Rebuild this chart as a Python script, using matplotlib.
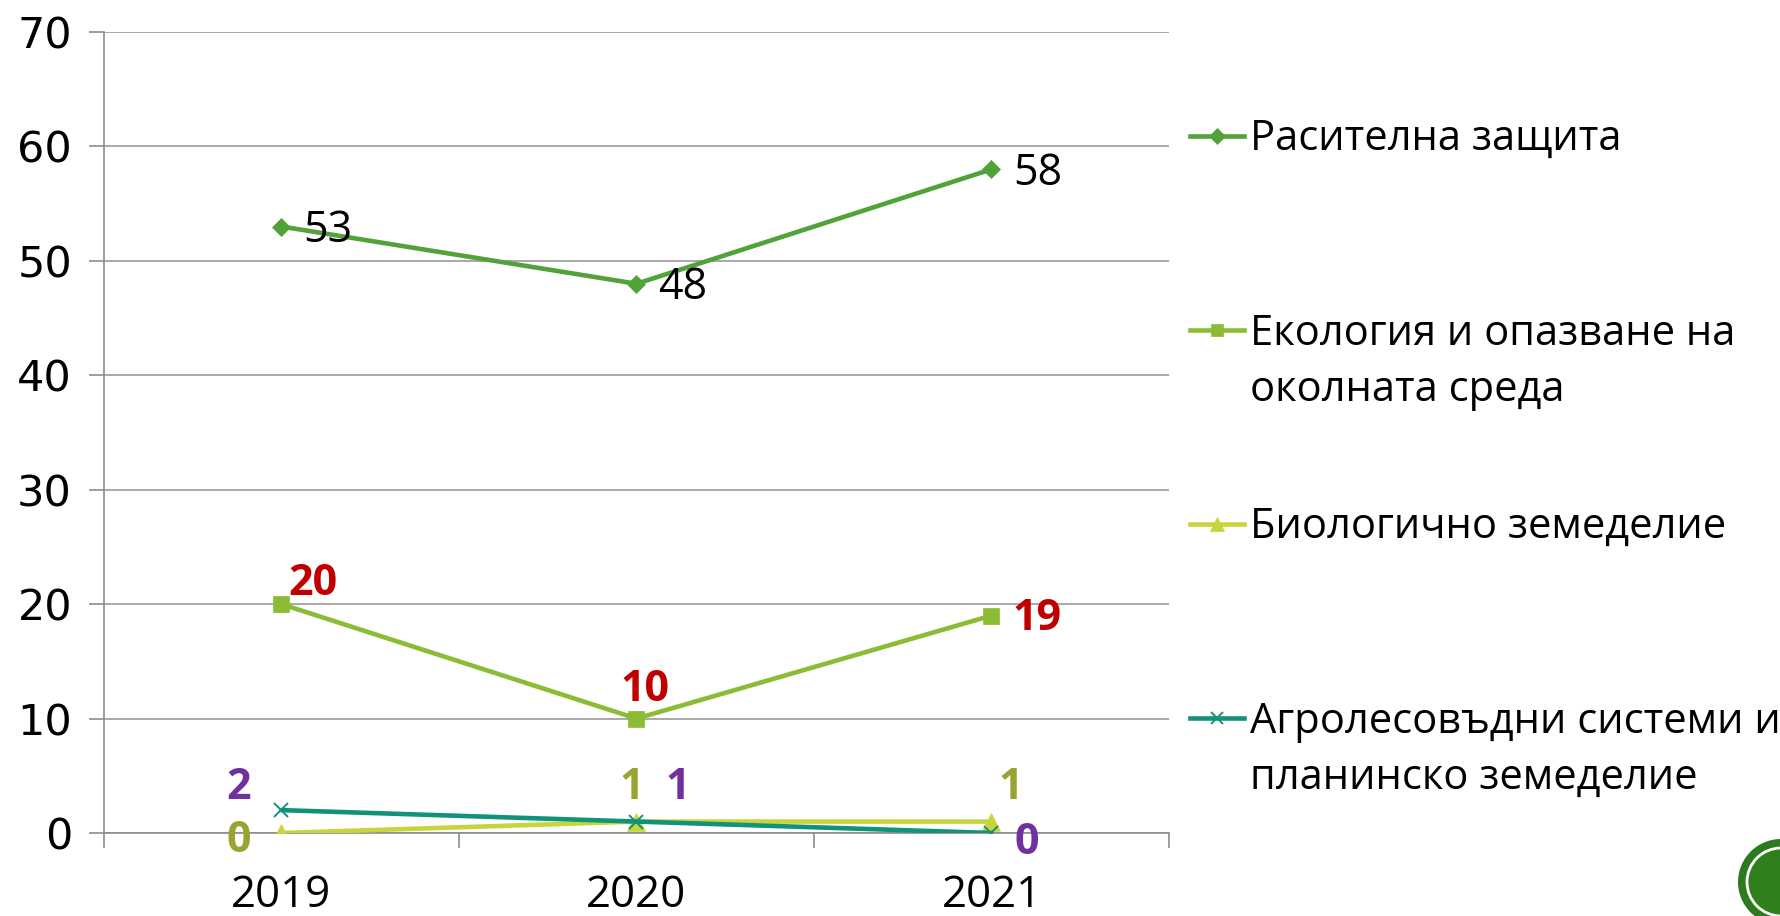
import matplotlib
matplotlib.use("Agg")
import matplotlib.pyplot as plt
from matplotlib.lines import Line2D
from matplotlib.patches import Ellipse

# ---- data ----
years = ["2019", "2020", "2021"]
series_names = [
    "Расителна защита",
    "Екология и опазване на\nоколната среда",
    "Биологично земеделие",
    "Агролесовъдни системи и\nпланинско земеделие",
]
plant_protection = [53, 48, 58]
ecology = [20, 10, 19]
organic = [0, 1, 1]
agroforestry = [2, 1, 0]
y_ticks = [0, 10, 20, 30, 40, 50, 60, 70]

# ---- style ----
W, H, DPI = 1781, 916, 100
colors = ["#52A23A", "#8CBB34", "#C6D53C", "#11927A"]
markers = ["D", "s", "^", "x"]
msizes = [9, 11, 12.5, 10.5]
FONT = "Open Sans"

fig = plt.figure(figsize=(W / DPI, H / DPI), dpi=DPI)
ax = fig.add_axes([104 / W, 1 - 833 / H, (1169 - 104) / W, (833 - 32) / H])

x = list(range(len(years)))
all_series = [plant_protection, ecology, organic, agroforestry]
for vals, c, m, ms in zip(all_series, colors, markers, msizes):
    ax.plot(x, vals, color=c, lw=3.3, marker=m, markersize=ms,
            markeredgewidth=1.4 if m == "x" else 0.5, markeredgecolor=c,
            solid_capstyle="round", zorder=3)

ax.set_xlim(-0.5, 2.5)
ax.set_ylim(0, 70)
ax.set_yticks(y_ticks)
ax.set_yticklabels([str(t) for t in y_ticks], fontfamily="DejaVu Sans", fontsize=31)
ax.yaxis.grid(True, color="#9A9A9A", lw=1.2)
ax.set_axisbelow(True)

ax.set_xticks([-0.5, 0.5, 1.5, 2.5])
ax.set_xticklabels([])
ax.set_xticks(x, minor=True)
ax.set_xticklabels(years, minor=True, fontfamily=FONT, fontsize=31.5)
ax.tick_params(axis="x", which="minor", length=0, pad=29)
ax.tick_params(axis="x", which="major", length=11, width=1.2, color="#8C8C8C")
ax.tick_params(axis="y", length=11, width=1.2, color="#8C8C8C", pad=12)

for s in ["top", "right"]:
    ax.spines[s].set_visible(False)
for s in ["left", "bottom"]:
    ax.spines[s].set_color("#8C8C8C")
    ax.spines[s].set_linewidth(1.2)

# ---- data labels (offsets in pixels) ----
def lab(xi, yi, txt, dx, dy, color, bold):
    ax.annotate(txt, (xi, yi), xytext=(dx, dy), textcoords="offset pixels",
                ha="center", va="center", fontfamily=FONT, fontsize=31,
                fontweight="bold" if bold else "normal", color=color, zorder=4)

for i, v in enumerate(plant_protection):
    lab(i, v, str(v), 46, -4, "black", False)

eco_off = [(31, 21), (8, 29), (46, -3)]
for i, v in enumerate(ecology):
    lab(i, v, str(v), eco_off[i][0], eco_off[i][1], "#C00000", True)

org_off = [(-43, -7), (-5, 34), (19, 34)]
for i, v in enumerate(organic):
    lab(i, v, str(v), org_off[i][0], org_off[i][1], "#9AA332", True)

agro_off = [(-43, 23), (41, 34), (35, -9)]
for i, v in enumerate(agroforestry):
    lab(i, v, str(v), agro_off[i][0], agro_off[i][1], "#7030A0", True)

# ---- legend (drawn in figure pixels) ----
leg_y = [136, 330, 524, 718]
LINE_GAP = 57
for name, c, m, ms, ly in zip(series_names, colors, markers, msizes, leg_y):
    yf = 1 - ly / H
    fig.add_artist(Line2D([1190 / W, 1244 / W], [yf, yf], color=c, lw=3.3,
                          transform=fig.transFigure))
    fig.add_artist(Line2D([1217 / W], [yf], color=c, marker=m,
                          markersize=ms * 0.85, markeredgecolor=c,
                          markeredgewidth=1.4 if m == "x" else 0.5,
                          transform=fig.transFigure))
    n_extra = name.count("\n")
    base = ly + 14 + LINE_GAP * n_extra
    fig.text(1250 / W, 1 - base / H, name, fontfamily=FONT, fontsize=30,
             va="baseline", ha="left", linespacing=1.45)

# ---- decorative circle in bottom-right corner ----
cx, cy, r = 1781, H - 882, 43
fig.add_artist(Ellipse((cx / W, cy / H), 2 * r / W, 2 * r / H,
                       transform=fig.transFigure, facecolor="#2E7A1E",
                       edgecolor="none", clip_on=False))
r2 = 34
fig.add_artist(Ellipse((cx / W, cy / H), 2 * r2 / W, 2 * r2 / H,
                       transform=fig.transFigure, facecolor="#2F7F1D",
                       edgecolor="white", lw=2, clip_on=False))

fig.savefig("out.png", dpi=DPI)
